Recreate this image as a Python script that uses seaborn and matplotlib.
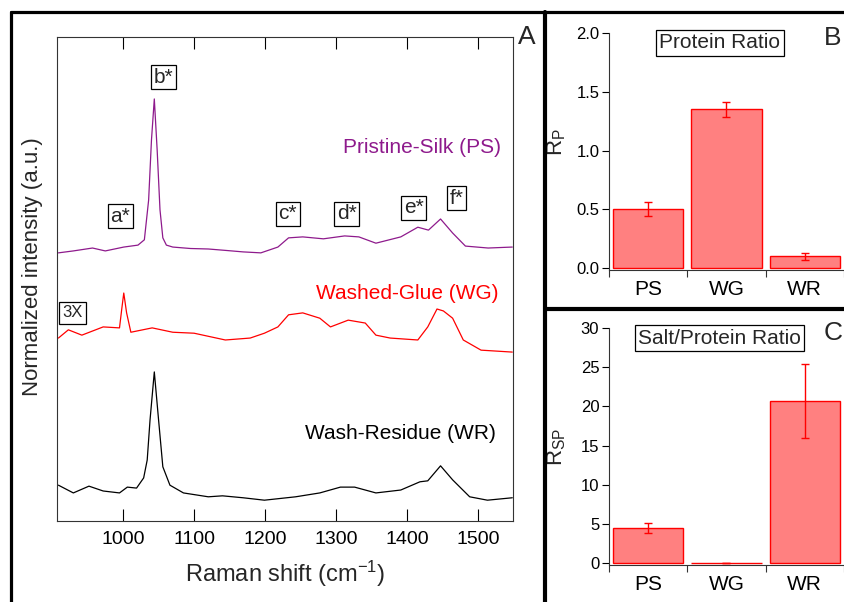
import matplotlib
matplotlib.use("Agg")
import matplotlib.pyplot as plt
from matplotlib.lines import Line2D
import seaborn as sns

# Panel A: Raman spectra (stacked, normalized units)
ps_shift = [909, 930, 957, 975, 1001, 1021, 1030, 1036, 1040, 1044, 1048, 1052, 1056, 1061,
            1070, 1095, 1120, 1145, 1169, 1194, 1218, 1233, 1253, 1282, 1312, 1332, 1356,
            1391, 1415, 1430, 1447, 1464, 1482, 1514, 1548]
ps_int = [0.554, 0.558, 0.564, 0.558, 0.566, 0.570, 0.581, 0.663, 0.787, 0.872, 0.767, 0.643,
          0.585, 0.570, 0.566, 0.563, 0.562, 0.559, 0.556, 0.554, 0.566, 0.585, 0.587, 0.583,
          0.589, 0.587, 0.574, 0.587, 0.607, 0.601, 0.624, 0.595, 0.568, 0.564, 0.566]

wg_shift = [909, 923, 942, 972, 995, 998, 1001, 1005, 1011, 1041, 1070, 1100, 1144, 1179,
            1199, 1218, 1233, 1253, 1277, 1292, 1317, 1341, 1356, 1376, 1415, 1429, 1442,
            1451, 1464, 1479, 1504, 1548]
wg_int = [0.378, 0.395, 0.384, 0.401, 0.399, 0.436, 0.471, 0.430, 0.390, 0.399, 0.390, 0.388,
          0.374, 0.378, 0.388, 0.401, 0.426, 0.430, 0.419, 0.401, 0.415, 0.409, 0.384, 0.378,
          0.374, 0.401, 0.438, 0.434, 0.419, 0.374, 0.353, 0.349]

wr_shift = [909, 930, 952, 972, 995, 1006, 1019, 1029, 1034, 1038, 1044, 1050, 1056, 1066,
            1085, 1120, 1140, 1169, 1199, 1243, 1277, 1306, 1326, 1356, 1391, 1418, 1429,
            1447, 1464, 1488, 1513, 1548]
wr_int = [0.074, 0.058, 0.072, 0.062, 0.058, 0.070, 0.068, 0.089, 0.126, 0.209, 0.308, 0.209,
          0.112, 0.074, 0.058, 0.050, 0.052, 0.048, 0.043, 0.050, 0.058, 0.070, 0.070, 0.058,
          0.064, 0.081, 0.083, 0.114, 0.085, 0.050, 0.043, 0.048]

# Panels B and C
samples = ["PS", "WG", "WR"]
protein_ratio = [0.50, 1.35, 0.10]
protein_err = [0.06, 0.06, 0.03]
salt_ratio = [4.5, 0.1, 20.7]
salt_err = [0.65, 0.0, 4.75]

PURPLE = "#8E1A8C"
W, H = 845, 602

sns.set_theme(style="white")
plt.rcParams["font.family"] = ["Liberation Sans", "DejaVu Sans"]
plt.rcParams["mathtext.default"] = "regular"

fig = plt.figure(figsize=(W / 100, H / 100), dpi=100)


def px_axes(left, top, right, bottom):
    return fig.add_axes([left / W, 1 - bottom / H, (right - left) / W, (bottom - top) / H])


# ---- panel A ----
axA = px_axes(57, 37, 513, 521)
sns.lineplot(x=ps_shift, y=ps_int, ax=axA, color=PURPLE, lw=0.9)
sns.lineplot(x=wg_shift, y=wg_int, ax=axA, color="red", lw=0.9)
sns.lineplot(x=wr_shift, y=wr_int, ax=axA, color="black", lw=0.9)
axA.set_xlim(907, 1549)
axA.set_ylim(0, 1)
axA.set_xticks([1000, 1100, 1200, 1300, 1400, 1500])
axA.set_yticks([])
axA.tick_params(axis="x", direction="in", length=8.5, width=0.8, bottom=True, top=True,
                labeltop=False, pad=7, labelsize=14, colors="black")
for s in axA.spines.values():
    s.set_linewidth(0.8)
    s.set_color("#333333")
axA.set_xlabel("Raman shift (cm$^{-1}$)", fontsize=17, labelpad=8)
axA.set_ylabel("Normalized intensity (a.u.)", fontsize=16)
axA.yaxis.set_label_coords(-0.031, 0.525)

box = dict(boxstyle="square,pad=0.12", fc="white", ec="black", lw=0.9)
for lab, xx, yy in [("a*", 996, 0.630), ("b*", 1057, 0.917), ("c*", 1232, 0.635),
                    ("d*", 1315, 0.635), ("e*", 1409, 0.647), ("f*", 1470, 0.667)]:
    axA.text(xx, yy, lab, fontsize=15, ha="center", va="center", bbox=box)
axA.text(929, 0.430, "3X", fontsize=12, ha="center", va="center",
         bbox=dict(boxstyle="square,pad=0.2", fc="white", ec="black", lw=0.9))
axA.text(1421, 0.771, "Pristine-Silk (PS)", color=PURPLE, fontsize=15, ha="center", va="center")
axA.text(1400, 0.471, "Washed-Glue (WG)", color="red", fontsize=15, ha="center", va="center")
axA.text(1390, 0.180, "Wash-Residue (WR)", color="black", fontsize=15, ha="center", va="center")


# ---- panels B and C ----
def bar_panel(ax, vals, errs, ylim, ticks, ylabel, title, label_y):
    sns.barplot(x=samples, y=vals, ax=ax, color="#FF8080", edgecolor="red", linewidth=1,
                width=0.9, saturation=1, errorbar=None)
    ax.errorbar(range(len(samples)), vals, yerr=errs, fmt="none", ecolor="red",
                elinewidth=1, capsize=3, capthick=1)
    ax.set_xlim(-0.5, 2.5)
    ax.set_ylim(*ylim)
    ax.set_yticks(ticks)
    ax.set_xticks([-0.5, 0.5, 1.5, 2.5], minor=True)
    ax.tick_params(axis="x", which="major", length=0, pad=7, labelsize=15, colors="black")
    ax.tick_params(axis="x", which="minor", bottom=True, direction="out", length=5,
                   width=0.8, color="#333333")
    ax.tick_params(axis="y", left=True, direction="out", length=5, width=0.8,
                   labelsize=12, pad=2, colors="black")
    sns.despine(ax=ax)
    for s in ax.spines.values():
        s.set_linewidth(0.8)
        s.set_color("#333333")
    ax.set_xlabel("")
    ax.set_ylabel(ylabel, fontsize=16)
    ax.yaxis.set_label_coords(-0.175, label_y)
    ax.text(0.472, 1.0 - 10 / 237, title, transform=ax.transAxes, fontsize=15,
            ha="center", va="center",
            bbox=dict(boxstyle="square,pad=0.15", fc="white", ec="black", lw=0.9))


axB = px_axes(609, 33, 844, 270)
bar_panel(axB, protein_ratio, protein_err, (-0.015, 2.0), [0, 0.5, 1.0, 1.5, 2.0],
          "R$_P$", "Protein Ratio", 0.54)
axB.set_yticklabels(["0.0", "0.5", "1.0", "1.5", "2.0"])

axC = px_axes(609, 328, 844, 565)
bar_panel(axC, salt_ratio, salt_err, (-0.2, 30), [0, 5, 10, 15, 20, 25, 30],
          "R$_{SP}$", "Salt/Protein Ratio", 0.5)

# panel letters
fig.text(527 / W, 1 - 37 / H, "A", fontsize=19, ha="center", va="center")
fig.text(833 / W, 1 - 38 / H, "B", fontsize=19, ha="center", va="center")
fig.text(833 / W, 1 - 333 / H, "C", fontsize=19, ha="center", va="center")

# panel frames
for (x0, y0, x1, y1), lw in [((11, 12, 845, 12), 2.3), ((11, 12, 11, 602), 2.3),
                             ((545, 12, 545, 602), 3.0), ((545, 309, 845, 309), 3.0)]:
    fig.add_artist(Line2D([x0 / W, x1 / W], [1 - y0 / H, 1 - y1 / H],
                          transform=fig.transFigure, color="black", lw=lw))

fig.savefig("out.png", dpi=100)
